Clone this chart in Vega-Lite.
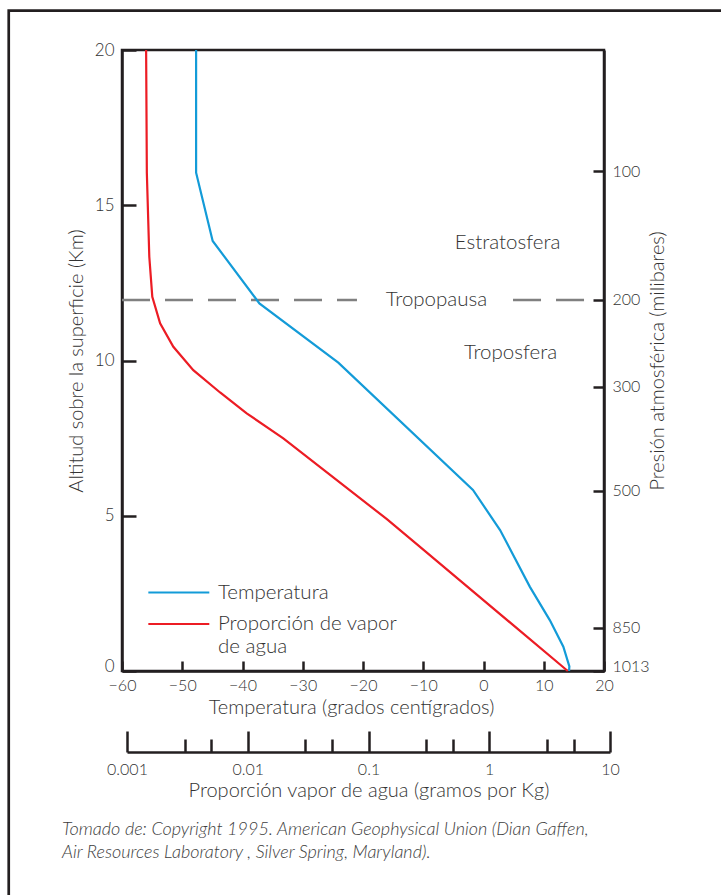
{
  "$schema": "https://vega.github.io/schema/vega-lite/v6.json",
  "width": 482,
  "height": 621,
  "autosize": {"type": "none"},
  "padding": {"left": 122, "top": 50, "right": 117, "bottom": 224},
  "background": "#ffffff",
  "title": {
    "text": ["Tomado de: Copyright 1995. American Geophysical Union (Dian Gaffen,", "Air Resources Laboratory , Silver Spring, Maryland)."],
    "orient": "bottom", "anchor": "start", "frame": "group", "dx": -60, "offset": -77,
    "font": "Lato", "fontSize": 18, "fontStyle": "italic", "fontWeight": 300, "color": "#3d3d3d", "lineHeight": 23
  },
  "datasets": {
    "temperatura": [
      {"altitud": 0, "temperatura": 14.2, "serie": "Temperatura"},
      {"altitud": 0.15, "temperatura": 14.25, "serie": "Temperatura"},
      {"altitud": 0.78, "temperatura": 13.25, "serie": "Temperatura"},
      {"altitud": 1.64, "temperatura": 11.0, "serie": "Temperatura"},
      {"altitud": 2.71, "temperatura": 7.7, "serie": "Temperatura"},
      {"altitud": 4.54, "temperatura": 2.75, "serie": "Temperatura"},
      {"altitud": 5.83, "temperatura": -1.75, "serie": "Temperatura"},
      {"altitud": 9.93, "temperatura": -24.1, "serie": "Temperatura"},
      {"altitud": 11.84, "temperatura": -37.2, "serie": "Temperatura"},
      {"altitud": 13.85, "temperatura": -44.95, "serie": "Temperatura"},
      {"altitud": 16.05, "temperatura": -47.7, "serie": "Temperatura"},
      {"altitud": 20, "temperatura": -47.7, "serie": "Temperatura"}
    ],
    "vapor": [
      {"altitud": 0, "vapor": 4.47, "serie": "Proporción de vapor de agua"},
      {"altitud": 4.0, "vapor": 0.267, "serie": "Proporción de vapor de agua"},
      {"altitud": 4.89, "vapor": 0.142, "serie": "Proporción de vapor de agua"},
      {"altitud": 7.49, "vapor": 0.0197, "serie": "Proporción de vapor de agua"},
      {"altitud": 8.3, "vapor": 0.0098, "serie": "Proporción de vapor de agua"},
      {"altitud": 8.97, "vapor": 0.0059, "serie": "Proporción de vapor de agua"},
      {"altitud": 9.69, "vapor": 0.00354, "serie": "Proporción de vapor de agua"},
      {"altitud": 10.44, "vapor": 0.00242, "serie": "Proporción de vapor de agua"},
      {"altitud": 11.2, "vapor": 0.00188, "serie": "Proporción de vapor de agua"},
      {"altitud": 12.05, "vapor": 0.00162, "serie": "Proporción de vapor de agua"},
      {"altitud": 13.34, "vapor": 0.00153, "serie": "Proporción de vapor de agua"},
      {"altitud": 16.04, "vapor": 0.00146, "serie": "Proporción de vapor de agua"},
      {"altitud": 20, "vapor": 0.00144, "serie": "Proporción de vapor de agua"}
    ]
  },
  "layer": [
    {
      "data": {"values": [{}]},
      "mark": {"type": "rect", "fill": null, "stroke": "#231f20", "strokeWidth": 2.7},
      "encoding": {
        "x": {"datum": -78.8, "type": "quantitative", "scale": {"domain": [-60, 20], "nice": false, "zero": false}, "axis": null},
        "x2": {"datum": 45},
        "y": {"datum": 21.27, "type": "quantitative", "scale": {"domain": [0, 20], "nice": false, "zero": false}, "axis": null},
        "y2": {"datum": -7.28}
      }
    },
    {
      "data": {"values": [{}]},
      "mark": {"type": "rule", "stroke": "#808080", "strokeWidth": 2.5, "strokeDash": [28, 15]},
      "encoding": {
        "x": {"datum": -60, "type": "quantitative", "scale": {"domain": [-60, 20], "nice": false, "zero": false}, "axis": null},
        "x2": {"datum": -21},
        "y": {"datum": 11.95, "type": "quantitative", "scale": {"domain": [0, 20], "nice": false, "zero": false}, "axis": null}
      }
    },
    {
      "data": {"values": [{}]},
      "mark": {"type": "rule", "stroke": "#808080", "strokeWidth": 2.5, "strokeDash": [28, 15]},
      "encoding": {
        "x": {"datum": 4.9, "type": "quantitative", "scale": {"domain": [-60, 20], "nice": false, "zero": false}, "axis": null},
        "x2": {"datum": 16.7},
        "y": {"datum": 11.95, "type": "quantitative", "scale": {"domain": [0, 20], "nice": false, "zero": false}, "axis": null}
      }
    },
    {
      "data": {"values": [{}]},
      "mark": {"type": "text", "font": "Lato", "fontSize": 20.5, "fontWeight": 300, "color": "#333333", "align": "center", "baseline": "middle"},
      "encoding": {
        "x": {"datum": 4.0, "type": "quantitative", "scale": {"domain": [-60, 20], "nice": false, "zero": false}, "axis": null},
        "y": {"datum": 13.78, "type": "quantitative", "scale": {"domain": [0, 20], "nice": false, "zero": false}, "axis": null},
        "text": {"value": "Estratosfera"}
      }
    },
    {
      "data": {"values": [{}]},
      "mark": {"type": "text", "font": "Lato", "fontSize": 20.5, "fontWeight": 300, "color": "#333333", "align": "center", "baseline": "middle"},
      "encoding": {
        "x": {"datum": -7.8, "type": "quantitative", "scale": {"domain": [-60, 20], "nice": false, "zero": false}, "axis": null},
        "y": {"datum": 11.95, "type": "quantitative", "scale": {"domain": [0, 20], "nice": false, "zero": false}, "axis": null},
        "text": {"value": "Tropopausa"}
      }
    },
    {
      "data": {"values": [{}]},
      "mark": {"type": "text", "font": "Lato", "fontSize": 20.5, "fontWeight": 300, "color": "#333333", "align": "center", "baseline": "middle"},
      "encoding": {
        "x": {"datum": 4.5, "type": "quantitative", "scale": {"domain": [-60, 20], "nice": false, "zero": false}, "axis": null},
        "y": {"datum": 10.24, "type": "quantitative", "scale": {"domain": [0, 20], "nice": false, "zero": false}, "axis": null},
        "text": {"value": "Troposfera"}
      }
    },
    {
      "data": {"name": "temperatura"},
      "mark": {"type": "line", "strokeWidth": 2.2},
      "encoding": {
        "x": {
          "field": "temperatura", "type": "quantitative",
          "scale": {"domain": [-60, 20], "nice": false, "zero": false},
          "axis": {"orient": "bottom", "values": [-60, -50, -40, -30, -20, -10, 0, 10, 20], "tickSize": -10, "labelPadding": 16, "labelFontSize": 16, "title": "Temperatura (grados centígrados)", "titlePadding": 4, "titleX": 229}
        },
        "y": {
          "field": "altitud", "type": "quantitative",
          "scale": {"domain": [0, 20], "nice": false, "zero": false},
          "axis": {"orient": "left", "values": [0, 5, 10, 15, 20], "tickSize": -14, "labelPadding": 22, "labelOffset": {"condition": {"test": "datum.value == 0", "value": -5}, "value": 0}, "title": "Altitud sobre la superficie (Km)", "titlePadding": 8}
        },
        "order": {"field": "altitud", "type": "quantitative"},
        "color": {
          "field": "serie", "type": "nominal",
          "scale": {"domain": ["Temperatura", "Proporción de vapor de agua"], "range": ["#139bd8", "#ec1c24"]},
          "legend": {"orient": "none", "legendX": 25, "legendY": 537, "title": null, "padding": 0, "symbolType": "M-1,-0.59H5", "symbolSize": 413, "symbolStrokeWidth": 2.2, "labelFont": "Lato", "labelFontWeight": 300, "labelFontSize": 20.5, "labelColor": "#333333", "labelOffset": 48, "labelBaseline": "alphabetic", "labelLimit": 400, "rowPadding": 10.5, "labelExpr": "datum.label == 'Proporción de vapor de agua' ? ['Proporción de vapor', 'de agua'] : datum.label"}
        }
      }
    },
    {
      "data": {"name": "vapor"},
      "mark": {"type": "line", "strokeWidth": 2.2},
      "encoding": {
        "x": {
          "field": "vapor", "type": "quantitative",
          "scale": {"type": "log", "domain": [0.001, 10], "range": [5, 488], "nice": false},
          "axis": {"orient": "bottom", "offset": 81, "values": [0.001, 0.003, 0.005, 0.01, 0.03, 0.05, 0.1, 0.3, 0.5, 1, 3, 5, 10], "format": "~g", "labelExpr": "abs(log(datum.value)/LN10 - round(log(datum.value)/LN10)) < 0.01 ? datum.label : ''", "tickSize": {"condition": {"test": "abs(log(datum.value)/LN10 - round(log(datum.value)/LN10)) < 0.01", "value": -21}, "value": -13}, "labelPadding": {"condition": {"test": "abs(log(datum.value)/LN10 - round(log(datum.value)/LN10)) < 0.01", "value": 30}, "value": 22}, "labelFontSize": 16, "title": "Proporción vapor de agua (gramos por Kg)", "titlePadding": 3}
        },
        "y": {
          "field": "altitud", "type": "quantitative",
          "scale": {"domain": [0, 20], "nice": false, "zero": false},
          "axis": {"orient": "right", "values": [0, 1.4, 5.8, 9.15, 11.95, 16.1], "labelExpr": "datum.value == 0 ? '1013' : datum.value == 1.4 ? '850' : datum.value == 5.8 ? '500' : datum.value == 9.15 ? '300' : datum.value == 11.95 ? '200' : '100'", "tickSize": -11, "labelPadding": 19, "labelFontSize": 16, "labelOffset": {"condition": {"test": "datum.value == 0", "value": -5}, "value": 0}, "title": "Presión atmosférica (milibares)", "titleAngle": 270, "titleBaseline": "top", "titlePadding": -2}
        },
        "order": {"field": "altitud", "type": "quantitative"},
        "color": {
          "field": "serie", "type": "nominal",
          "scale": {"domain": ["Temperatura", "Proporción de vapor de agua"], "range": ["#139bd8", "#ec1c24"]},
          "legend": {"orient": "none", "legendX": 25, "legendY": 537, "title": null, "padding": 0, "symbolType": "M-1,-0.59H5", "symbolSize": 413, "symbolStrokeWidth": 2.2, "labelFont": "Lato", "labelFontWeight": 300, "labelFontSize": 20.5, "labelColor": "#333333", "labelOffset": 48, "labelBaseline": "alphabetic", "labelLimit": 400, "rowPadding": 10.5, "labelExpr": "datum.label == 'Proporción de vapor de agua' ? ['Proporción de vapor', 'de agua'] : datum.label"}
        }
      }
    }
  ],
  "resolve": {"scale": {"x": "independent", "y": "independent"}},
  "config": {
    "font": "Lato",
    "view": {"stroke": "#231f20", "strokeWidth": 2.5},
    "axis": {
      "domainColor": "#231f20", "domainWidth": 2.5, "tickColor": "#231f20", "tickWidth": 2.5,
      "labelFont": "Lato", "labelFontWeight": 300, "labelFontSize": 17, "labelColor": "#333333",
      "titleFont": "Lato", "titleFontWeight": 300, "titleFontSize": 20, "titleColor": "#333333",
      "grid": false, "labelFlush": false, "labelOverlap": false
    }
  }
}
